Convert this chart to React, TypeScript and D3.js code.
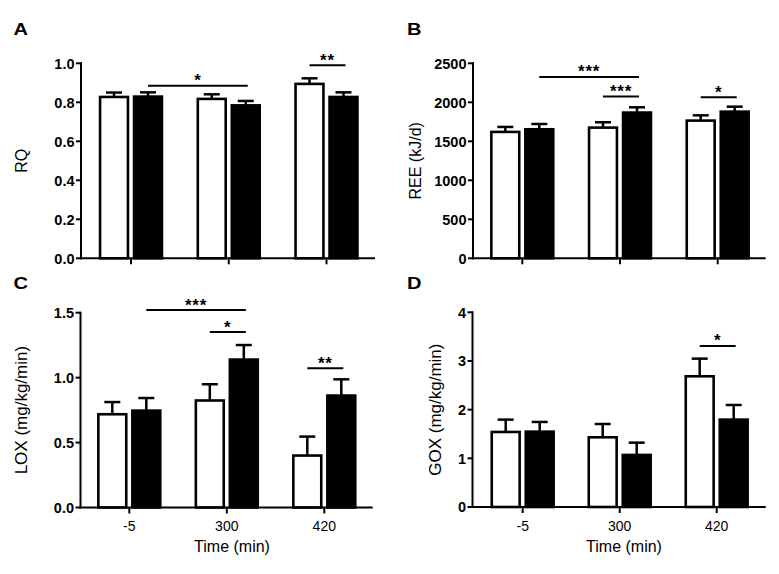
import React from "react";
import * as d3 from "d3";

const categories = ["-5", "300", "420"];

const rqOpen = [0.834, 0.824, 0.901];
const rqOpenErr = [0.016, 0.017, 0.022];
const rqFilled = [0.836, 0.791, 0.834];
const rqFilledErr = [0.015, 0.016, 0.017];
const rqTicks = [0, 0.2, 0.4, 0.6, 0.8, 1.0];

const reeOpen = [1637, 1692, 1782];
const reeOpenErr = [47, 52, 51];
const reeFilled = [1671, 1885, 1897];
const reeFilledErr = [51, 51, 47];
const reeTicks = [0, 500, 1000, 1500, 2000, 2500];

const loxOpen = [0.728, 0.834, 0.41];
const loxOpenErr = [0.084, 0.115, 0.136];
const loxFilled = [0.756, 1.149, 0.872];
const loxFilledErr = [0.087, 0.102, 0.115];
const loxTicks = [0, 0.5, 1.0, 1.5];

const goxOpen = [1.568, 1.459, 2.712];
const goxOpenErr = [0.227, 0.246, 0.336];
const goxFilled = [1.575, 1.096, 1.822];
const goxFilledErr = [0.172, 0.226, 0.274];
const goxTicks = [0, 1, 2, 3, 4];

type Sig = { from: [number, number]; to: [number, number]; y: number; label: string };

const rqSig: Sig[] = [
  { from: [0, 1], to: [1, 1], y: 0.885, label: "*" },
  { from: [2, 0], to: [2, 1], y: 0.99, label: "**" },
];
const reeSig: Sig[] = [
  { from: [0, 1], to: [1, 1], y: 2325, label: "***" },
  { from: [1, 0], to: [1, 1], y: 2073, label: "***" },
  { from: [2, 0], to: [2, 1], y: 2064, label: "*" },
];
const loxSig: Sig[] = [
  { from: [0, 1], to: [1, 1], y: 1.52, label: "***" },
  { from: [1, 0], to: [1, 1], y: 1.351, label: "*" },
  { from: [2, 0], to: [2, 1], y: 1.072, label: "**" },
];
const goxSig: Sig[] = [{ from: [2, 0], to: [2, 1], y: 3.308, label: "*" }];

const FONT = "Arial, 'Liberation Sans', Helvetica, sans-serif";

type PanelProps = {
  letter: string;
  letterX: number;
  letterY: number;
  yLabel: string;
  yLabelX: number;
  yLabelSize: number;
  axisX: number;
  axisEnd: number;
  catStart: number;
  catEnd: number;
  yTop: number;
  y0: number;
  ticks: number[];
  fmt: (v: number) => string;
  open: number[];
  openErr: number[];
  filled: number[];
  filledErr: number[];
  sig: Sig[];
  showX: boolean;
  xTitleX: number;
};

const BAR_W = 30.5;
const GAP = 1.75;
const SW = 2.6;
const CAP = 16;

function Panel(p: PanelProps) {
  const yMax = p.ticks[p.ticks.length - 1];
  const y = d3.scaleLinear().domain([0, yMax]).range([p.y0, p.yTop]);
  const x = d3.scalePoint<string>().domain(categories).range([p.catStart, p.catEnd]);
  const barLeft = (i: number, g: number) => {
    const c = x(categories[i]) as number;
    return g === 0 ? c - GAP - BAR_W : c + GAP;
  };
  const barCenter = (i: number, g: number) => barLeft(i, g) + BAR_W / 2;
  const series = [
    { vals: p.open, errs: p.openErr, fill: "#fff" },
    { vals: p.filled, errs: p.filledErr, fill: "#000" },
  ];
  return (
    <g>
      <text
        x={p.letterX}
        y={p.letterY}
        fontFamily={FONT}
        fontWeight={900}
        fontSize={17}
        textLength={14.5}
        lengthAdjust="spacingAndGlyphs"
      >
        {p.letter}
      </text>
      {series.map((s, g) =>
        s.vals.map((v, i) => {
          const cx = barCenter(i, g);
          const yt = y(v + s.errs[i]);
          return (
            <g key={`e${g}-${i}`} stroke="#000" strokeWidth={2.5}>
              <line x1={cx} x2={cx} y1={y(v) + 1} y2={yt} />
              <line x1={cx - CAP / 2} x2={cx + CAP / 2} y1={yt} y2={yt} />
            </g>
          );
        })
      )}
      {series.map((s, g) =>
        s.vals.map((v, i) => (
          <rect
            key={`b${g}-${i}`}
            x={barLeft(i, g) + SW / 2}
            y={y(v) + SW / 2}
            width={BAR_W - SW}
            height={p.y0 - y(v) - SW / 2}
            fill={s.fill}
            stroke="#000"
            strokeWidth={SW}
          />
        ))
      )}
      <line x1={p.axisX} x2={p.axisX} y1={p.yTop - 1} y2={p.y0 + 1} stroke="#000" strokeWidth={2} />
      {p.ticks.map((t) => (
        <g key={`yt${t}`}>
          <line x1={p.axisX - 5} x2={p.axisX} y1={y(t)} y2={y(t)} stroke="#000" strokeWidth={2} />
          <text
            x={p.axisX - 6.5}
            y={y(t)}
            dy="0.36em"
            textAnchor="end"
            fontFamily={FONT}
            fontWeight="bold"
            fontSize={14.5}
          >
            {p.fmt(t)}
          </text>
        </g>
      ))}
      <line x1={p.axisX - 1} x2={p.axisEnd} y1={p.y0} y2={p.y0} stroke="#000" strokeWidth={2} />
      {categories.map((c) => (
        <g key={`xt${c}`}>
          <line x1={x(c)} x2={x(c)} y1={p.y0} y2={p.y0 + 6} stroke="#000" strokeWidth={2} />
          {p.showX && (
            <text x={x(c)} y={p.y0 + 23.5} textAnchor="middle" fontFamily={FONT} fontSize={14}>
              {c}
            </text>
          )}
        </g>
      ))}
      {p.showX && (
        <text x={p.xTitleX} y={p.y0 + 44.5} textAnchor="middle" fontFamily={FONT} fontSize={16}>
          Time (min)
        </text>
      )}
      <text
        transform={`translate(${p.yLabelX},${(p.y0 + p.yTop) / 2}) rotate(-90)`}
        textAnchor="middle"
        fontFamily={FONT}
        fontSize={p.yLabelSize}
      >
        {p.yLabel}
      </text>
      {p.sig.map((s, k) => {
        const x1 = barCenter(s.from[0], s.from[1]);
        const x2 = barCenter(s.to[0], s.to[1]) + 2;
        const yy = y(s.y);
        return (
          <g key={`s${k}`}>
            <line x1={x1} x2={x2} y1={yy} y2={yy} stroke="#000" strokeWidth={2} />
            <text
              x={(x1 + x2) / 2}
              y={yy + 0.5}
              textAnchor="middle"
              fontFamily={FONT}
              fontWeight="bold"
              fontSize={17}
              letterSpacing={0.8}
            >
              {s.label}
            </text>
          </g>
        );
      })}
    </g>
  );
}

export default function App() {
  const f1 = d3.format(".1f");
  const f0 = d3.format("d");
  return (
    <svg
      width={779}
      height={574}
      viewBox="0 0 779 574"
      style={{ position: "absolute", left: 0, top: 0, background: "#fff" }}
    >
      <rect width={779} height={574} fill="#fff" />
      <Panel
        letter="A"
        letterX={13.5}
        letterY={35}
        yLabel="RQ"
        yLabelX={27}
        yLabelSize={16}
        axisX={81}
        axisEnd={375}
        catStart={131}
        catEnd={326.5}
        yTop={63.3}
        y0={258.3}
        ticks={rqTicks}
        fmt={f1}
        open={rqOpen}
        openErr={rqOpenErr}
        filled={rqFilled}
        filledErr={rqFilledErr}
        sig={rqSig}
        showX={false}
        xTitleX={232}
      />
      <Panel
        letter="B"
        letterX={407}
        letterY={34.5}
        yLabel="REE (kJ/d)"
        yLabelX={421}
        yLabelSize={16}
        axisX={473}
        axisEnd={765.7}
        catStart={522.3}
        catEnd={717.7}
        yTop={63.3}
        y0={258.3}
        ticks={reeTicks}
        fmt={f0}
        open={reeOpen}
        openErr={reeOpenErr}
        filled={reeFilled}
        filledErr={reeFilledErr}
        sig={reeSig}
        showX={false}
        xTitleX={624}
      />
      <Panel
        letter="C"
        letterX={13.5}
        letterY={289}
        yLabel="LOX (mg/kg/min)"
        yLabelX={27}
        yLabelSize={17}
        axisX={80.5}
        axisEnd={372.7}
        catStart={129.3}
        catEnd={324.3}
        yTop={312.7}
        y0={507.5}
        ticks={loxTicks}
        fmt={f1}
        open={loxOpen}
        openErr={loxOpenErr}
        filled={loxFilled}
        filledErr={loxFilledErr}
        sig={loxSig}
        showX={true}
        xTitleX={232}
      />
      <Panel
        letter="D"
        letterX={407}
        letterY={288.5}
        yLabel="GOX (mg/kg/min)"
        yLabelX={441}
        yLabelSize={17}
        axisX={472.5}
        axisEnd={765.7}
        catStart={522.7}
        catEnd={716.7}
        yTop={312.3}
        y0={507}
        ticks={goxTicks}
        fmt={f0}
        open={goxOpen}
        openErr={goxOpenErr}
        filled={goxFilled}
        filledErr={goxFilledErr}
        sig={goxSig}
        showX={true}
        xTitleX={624}
      />
    </svg>
  );
}
